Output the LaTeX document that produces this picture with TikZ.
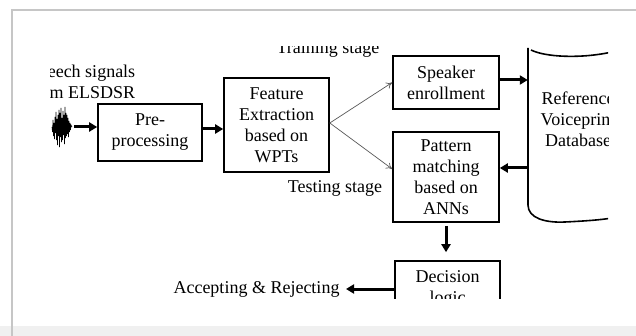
\documentclass[tikz,border=0pt]{standalone}
\usepackage{fontspec}
\setmainfont{Liberation Serif}
\usetikzlibrary{arrows.meta}

\begin{document}
\begin{tikzpicture}[x=1pt,y=-1pt,
  lbl/.style={align=center,font=\fontsize{18}{21}\selectfont},
  box/.style={lbl,draw,line width=1.6pt,inner sep=0pt},
  fat/.style={line width=3pt,-{Triangle[length=8pt,width=9pt]}},
  slim/.style={draw=gray!70!black,line width=0.7pt,-{To[length=6pt,width=7pt]}}]
\useasboundingbox (0,0) rectangle (636,336);
% card frame
\fill[gray!12] (0,326) rectangle (636,336);
\draw[gray!45,line width=2pt] (12,336) -- (12,10) -- (636,10);
\fill[white] (13,11) rectangle (636,325);
\begin{scope}
\clip (50,47) rectangle (608,298);
% waveform
\draw[line width=0.6pt] (52,127)
  \foreach \x/\a in {52.5/5,53/-7,53.5/9,54/-4,54.5/12,55/-10,55.5/6,56/-15,56.5/13,57/-8,
    57.5/18,58/-12,58.5/9,59/-17,59.5/20,60/-14,60.5/10,61/-19,61.5/15,62/-9,62.5/13,
    63/-16,63.5/8,64/-12,64.5/17,65/-20,65.5/11,66/-14,66.5/9,67/-12,67.5/7,68/-9,
    68.5/10,69/-6,69.5/5,70/-4,70.5/3,71/-2,72/0} { -- (\x,127+\a) };
\coordinate (wave) at (74,127);
\node[lbl] (sig) at (82,82) {Speech signals\\from ELSDSR};
% blocks
\node[box,minimum width=104,minimum height=57] (pre) at (150,132.5) {Pre-\\processing};
\node[box,minimum width=105,minimum height=94] (feat) at (276.5,125) {Feature\\Extraction\\based on\\WPTs};
\node[box,minimum width=106,minimum height=53] (spk) at (446,82.5) {Speaker\\enrollment};
\node[box,minimum width=106,minimum height=90] (pat) at (446,177) {Pattern\\matching\\based on\\ANNs};
\node[box,minimum width=105,minimum height=56] (dec) at (447.5,289) {Decision\\logic};
% database
\node[lbl,minimum width=100] (db) at (578,119) {Reference\\Voiceprint\\Database};
\draw[line width=1.6pt] (528,48) -- (528,205) .. controls (528,218) and (545,223) .. (565,222)
  .. controls (585,221) and (600,220) .. (612,218);
\draw[line width=1.6pt] (531,50) .. controls (545,57) and (580,59) .. (612,52);
% stage labels
\node[lbl] (train) at (328,49) {Training stage};
\node[lbl] (test) at (335,188) {Testing stage};
\node[lbl,anchor=east] (acc) at (343,289) {Accepting \& Rejecting};
% connectors
\draw[fat] (wave) -- (wave -| pre.west);
\draw[fat] ([yshift=3.5pt]pre.east) -- ([yshift=3.5pt]pre.east -| feat.west);
\draw[slim] ([yshift=2pt]feat.east) -- (spk.west);
\draw[slim] ([yshift=2pt]feat.east) -- ([yshift=8pt]pat.west);
\draw[fat] ([yshift=2.5pt]spk.east) -- ([yshift=2.5pt]spk.east -| db.west);
\draw[fat] ([yshift=9pt]pat.east -| db.west) -- ([yshift=9pt]pat.east);
\draw[fat,shorten <=3pt,shorten >=8pt] (pat.south) -- (pat.south |- dec.north);
\draw[fat,shorten >=3pt] (dec.west) -- (acc.east);
\end{scope}
\end{tikzpicture}
\end{document}
